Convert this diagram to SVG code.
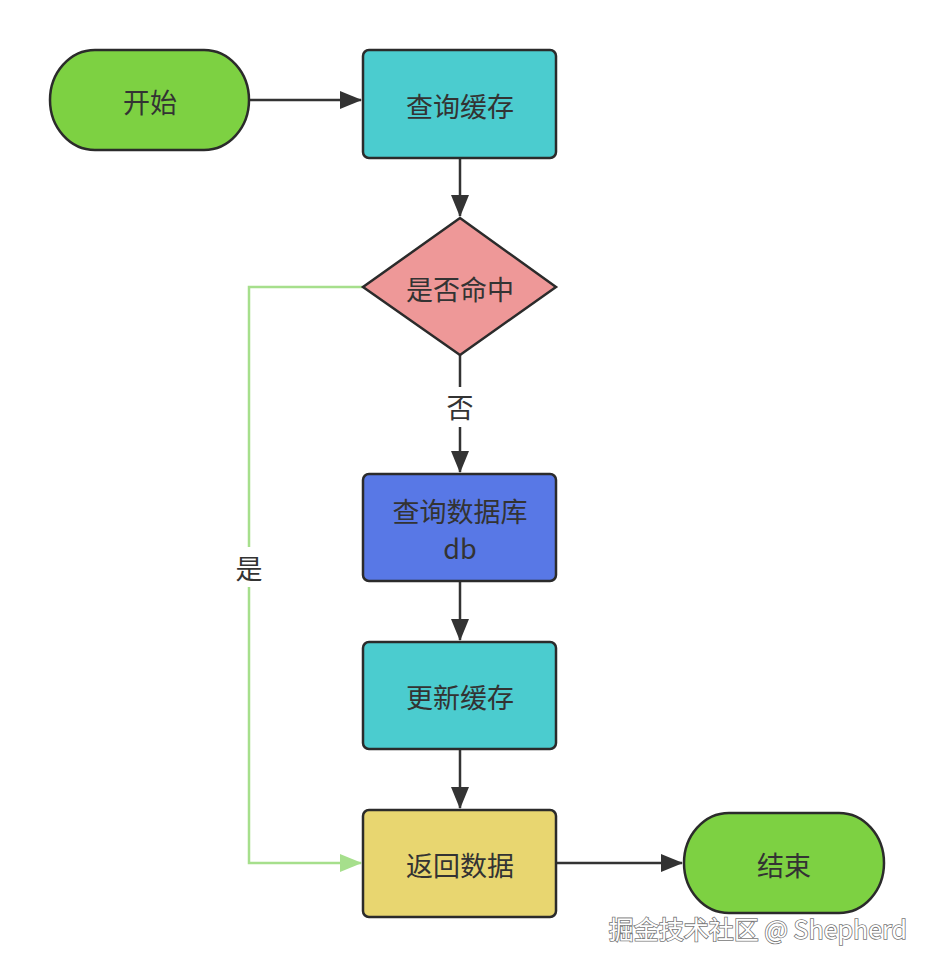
<svg xmlns="http://www.w3.org/2000/svg" width="934" height="968" viewBox="0 0 934 968">
<defs>
<marker id="ah" markerWidth="22" markerHeight="18" refX="21" refY="9" orient="auto" markerUnits="userSpaceOnUse">
<path d="M0,0 L22,9 L0,18 Z" fill="#333"/>
</marker>
<marker id="ahg" markerWidth="22" markerHeight="18" refX="21" refY="9" orient="auto" markerUnits="userSpaceOnUse">
<path d="M0,0 L22,9 L0,18 Z" fill="#a6df8c"/>
</marker>
</defs>
<style>
.n{stroke:#2b2b2b;stroke-width:2.5}
.t{font-family:"Noto Sans CJK SC","Noto Sans",sans-serif;font-size:27px;fill:#333;text-anchor:middle;dominant-baseline:central}
.e{fill:none;stroke:#333;stroke-width:2.5}
.g{fill:none;stroke:#a6df8c;stroke-width:2.5}
</style>
<rect width="934" height="968" fill="#fff"/>
<g id="edges">
<path class="e" d="M249,100 H361" marker-end="url(#ah)"/>
<path class="e" d="M460,158 V216" marker-end="url(#ah)"/>
<path class="e" d="M460,355 V472" marker-end="url(#ah)"/>
<path class="e" d="M460,581 V640" marker-end="url(#ah)"/>
<path class="e" d="M460,749 V808" marker-end="url(#ah)"/>
<path class="e" d="M556,863 H682" marker-end="url(#ah)"/>
<path class="g" d="M363,287 H249 V863 H361" marker-end="url(#ahg)"/>
<rect x="442" y="387" width="36" height="40" fill="#fff"/>
<text class="t" x="460" y="406">否</text>
<rect x="231" y="547" width="36" height="40" fill="#fff"/>
<text class="t" x="249" y="567">是</text>
</g>
<g id="start">
<rect class="n" x="50" y="50" width="199" height="100" rx="45" ry="50" fill="#7dd142"/>
<text class="t" x="150" y="101">开始</text>
</g>
<g id="queryCache">
<rect class="n" x="363" y="50" width="193" height="108" rx="6" fill="#4bcccf"/>
<text class="t" x="460" y="105">查询缓存</text>
</g>
<g id="hit">
<path class="n" d="M460,218 L556,287 L460,355 L363,287 Z" fill="#ee9898"/>
<text class="t" x="460" y="288">是否命中</text>
</g>
<g id="queryDb">
<rect class="n" x="363" y="474" width="193" height="107" rx="6" fill="#5878e6"/>
<text class="t" x="460" y="510" font-size="26">查询数据库</text>
<text class="t" x="460" y="547" font-size="26">db</text>
</g>
<g id="updateCache">
<rect class="n" x="363" y="642" width="193" height="107" rx="6" fill="#4bcccf"/>
<text class="t" x="460" y="696">更新缓存</text>
</g>
<g id="returnData">
<rect class="n" x="363" y="810" width="193" height="107" rx="6" fill="#e8d670"/>
<text class="t" x="460" y="864">返回数据</text>
</g>
<g id="end">
<rect class="n" x="684" y="813" width="200" height="100" rx="45" ry="50" fill="#7dd142"/>
<text class="t" x="784" y="864">结束</text>
</g>
<text x="907" y="928" font-family="'Noto Sans CJK SC','Noto Sans',sans-serif" font-size="25" text-anchor="end" dominant-baseline="central" fill="#fff" stroke="#777" stroke-width="1.6" paint-order="stroke">掘金技术社区 @ Shepherd</text>
</svg>
